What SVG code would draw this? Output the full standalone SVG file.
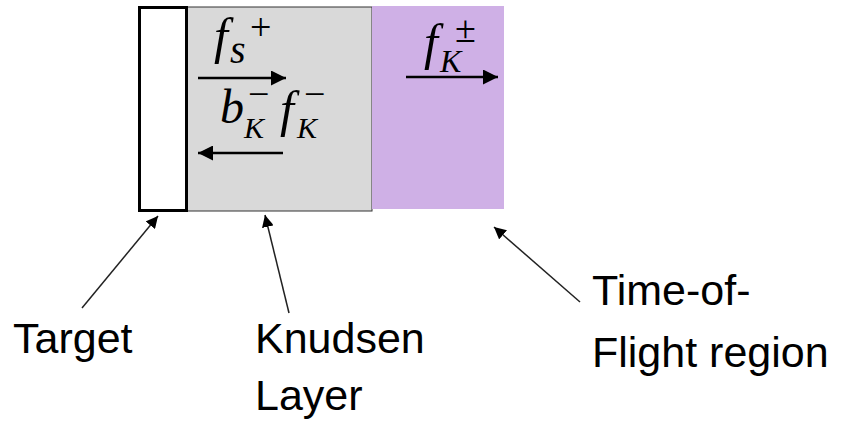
<svg xmlns="http://www.w3.org/2000/svg" width="841" height="423" viewBox="0 0 841 423">
<style>
.m{font-family:"Liberation Serif","Times New Roman",serif;font-style:italic;fill:#000}
.op{font-family:"Liberation Serif","Times New Roman",serif;fill:#000}
.lbl{font-family:"Liberation Sans",Arial,sans-serif;font-size:43px;fill:#000}
.fl{stroke:#000;stroke-width:2.5;fill:none}
.pt{stroke:#222;stroke-width:1.5;fill:none}
</style>
<defs>
<marker id="big" viewBox="0 0 10 10" refX="10" refY="5" markerWidth="6" markerHeight="6" markerUnits="strokeWidth" orient="auto"><path d="M0,0 L10,5 L0,10 z" fill="#000"/></marker>
<marker id="sm" viewBox="0 0 10 10" refX="10" refY="5" markerWidth="8" markerHeight="8" markerUnits="strokeWidth" orient="auto"><path d="M0,0 L10,5 L0,10 z" fill="#000"/></marker>
</defs>
<rect width="841" height="423" fill="#fff"/>
<g id="knudsen-layer">
<rect x="187" y="7" width="185" height="204" fill="#d9d9d9" stroke="#333" stroke-width="1"/>
</g>
<g id="tof-region">
<rect x="372" y="6" width="132" height="203" fill="#cfb0e6"/>
</g>
<g id="target">
<rect x="139.5" y="7.5" width="47" height="203" fill="#fff" stroke="#000" stroke-width="3"/>
</g>
<g id="connectors">
<line class="fl" x1="198" y1="78" x2="286" y2="78" marker-end="url(#big)"/>
<line class="fl" x1="283" y1="153" x2="198" y2="153" marker-end="url(#big)"/>
<line class="fl" x1="406" y1="77" x2="498" y2="77" marker-end="url(#big)"/>
<line class="pt" x1="82" y1="308" x2="158" y2="216" marker-end="url(#sm)"/>
<line class="pt" x1="289" y1="313" x2="265" y2="215" marker-end="url(#sm)"/>
<line class="pt" x1="580" y1="302" x2="494" y2="227" marker-end="url(#sm)"/>
</g>
<g id="labels-math">
<text class="m" x="214" y="53" font-size="50">f</text>
<text class="m" x="230" y="63" font-size="40">s</text>
<text class="op" x="250" y="40" font-size="38">+</text>
<text class="m" x="220" y="123" font-size="48">b</text>
<text class="m" x="244" y="138" font-size="30">K</text>
<text class="op" x="248" y="107" font-size="38">−</text>
<text class="m" x="280" y="126" font-size="50">f</text>
<text class="m" x="297" y="138" font-size="30">K</text>
<text class="op" x="304" y="107" font-size="38">−</text>
<text class="m" x="424" y="59" font-size="50">f</text>
<text class="m" x="440" y="72" font-size="32">K</text>
<text class="op" x="455" y="42" font-size="38">±</text>
</g>
<g id="labels">
<text class="lbl" x="13" y="353">Target</text>
<text class="lbl" x="255" y="353">Knudsen</text>
<text class="lbl" x="255" y="410">Layer</text>
<text class="lbl" x="592" y="305">Time-of-</text>
<text class="lbl" x="592" y="367">Flight region</text>
</g>
</svg>
